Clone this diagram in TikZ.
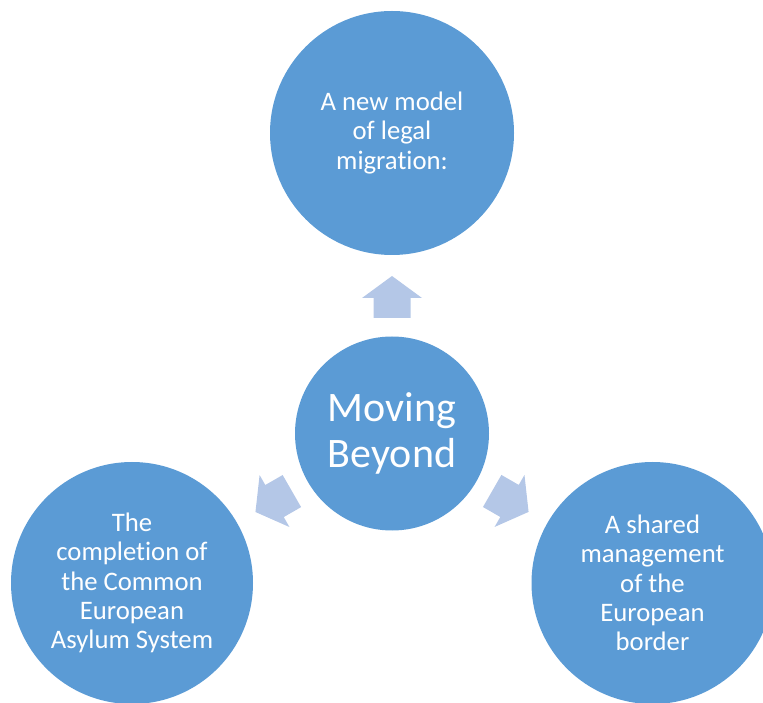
\documentclass[tikz,border=0pt]{standalone}
\usepackage{fontspec}
\setmainfont{Carlito}[Ligatures=NoCommon]
\usetikzlibrary{calc}
\definecolor{circblue}{HTML}{5B9BD5}
\definecolor{arrowblue}{HTML}{B4C7E7}
\tikzset{
  bubble/.style={circle, fill=circblue, draw=none, inner sep=0pt, text=white, align=center},
  outertext/.style={font=\fontsize{26.7}{29.2}\selectfont},
  centertext/.style={font=\fontsize{42}{46.5}\selectfont},
  blockarrow/.pic={\fill[arrowblue] (-21,-18.5) -- (-1,-18.5) -- (-1,-30) -- (21,0) -- (-1,30) -- (-1,18.5) -- (-21,18.5) -- cycle;}
}
\begin{document}
\begin{tikzpicture}[x=1pt,y=1pt]
\useasboundingbox (0,0) rectangle (763,702);
\clip (0,0) rectangle (763,702);
\node[bubble, minimum size=194pt, centertext] (c) at (392,268.5) {Moving\\Beyond};
\node[bubble, minimum size=244pt, outertext] (t) at (392,569) {A new model\\of legal\\migration:};
\node[bubble, minimum size=242pt, outertext] (l) at (132,119) {The\\completion of\\the Common\\European\\Asylum System};
\node[bubble, minimum size=242pt, outertext] (r) at (652.5,119) {A shared\\management\\of the\\European\\border};
\pic[rotate=90] at ($(c.center)!136.5pt!(t.center)$) {blockarrow};
\pic[rotate=209.9] at ($(c.center)!136.5pt!(l.center)$) {blockarrow};
\pic[rotate=-29.9] at ($(c.center)!136.5pt!(r.center)$) {blockarrow};
\end{tikzpicture}
\end{document}
